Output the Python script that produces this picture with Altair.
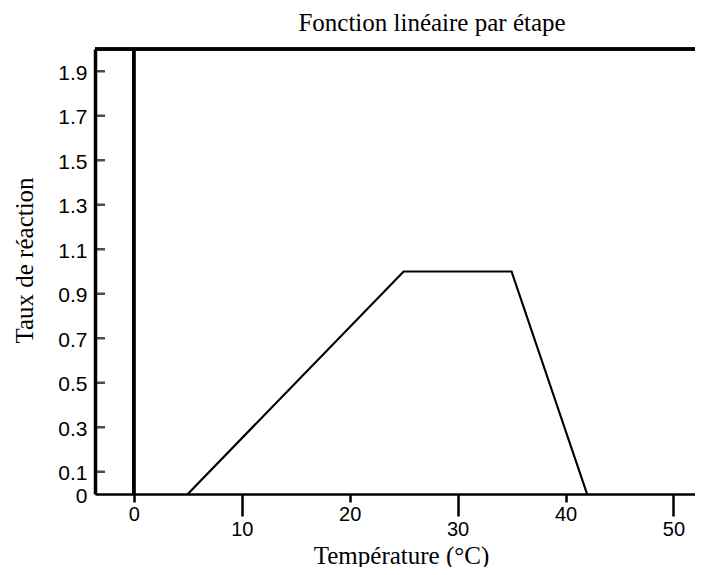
import altair as alt
import pandas as pd

# ---- data ----
temps = [5, 25, 35, 42]
rates = [0.0, 1.0, 1.0, 0.0]
x_ticks = [0, 10, 20, 30, 40, 50]
y_ticks = [0, 0.1, 0.3, 0.5, 0.7, 0.9, 1.1, 1.3, 1.5, 1.7, 1.9]
x_domain = [-3.6, 52.0]
y_domain = [0, 2.0]

line_df = pd.DataFrame({"t": temps, "r": rates})
tick_df = pd.DataFrame({"v": [v for v in y_ticks if v > 0]})

xscale = alt.Scale(domain=x_domain, nice=False, zero=False)
yscale = alt.Scale(domain=y_domain, nice=False, zero=False)

x_axis = alt.Axis(
    values=x_ticks,
    title="Température (°C)",
    grid=False,
    domainColor="black",
    domainWidth=2.5,
    tickColor="black",
    tickWidth=2.5,
    tickSize={"condition": {"test": "datum.value % 20 == 0", "value": 8}, "value": 22},
    labelPadding={"condition": {"test": "datum.value % 20 == 0", "value": 2}, "value": 3},
    labelBaseline="top",
    labelFont="Liberation Sans",
    labelFontSize=20,
    labelColor="black",
    titleFont="Liberation Serif",
    titleFontSize=25,
    titleFontWeight="normal",
    titleColor="black",
    titleBaseline="alphabetic",
    titleX=306,
    titleY=69,
)

y_axis = alt.Axis(
    values=y_ticks,
    title="Taux de réaction",
    grid=False,
    ticks=False,
    domainColor="black",
    domainWidth=3.5,
    labelExpr="datum.value == 0 ? '0' : format(datum.value, '.1f')",
    labelPadding=8,
    labelOffset=2,
    labelFont="Liberation Sans",
    labelFontSize=21,
    labelColor="black",
    titleFont="Liberation Serif",
    titleFontSize=25,
    titleFontWeight="normal",
    titleColor="black",
    titleAngle=270,
    titleBaseline="middle",
    titleAlign="center",
    titleX=-71,
    titleY=211,
)

line = alt.Chart(line_df).mark_line(color="black", strokeWidth=2.2).encode(
    x=alt.X("t:Q", scale=xscale, axis=x_axis),
    y=alt.Y("r:Q", scale=yscale, axis=y_axis),
)

zero_rule = alt.Chart(line_df).mark_rule(color="black", strokeWidth=3).encode(
    x=alt.datum(0, type="quantitative"),
)

top_rule = alt.Chart(line_df).mark_rule(color="black", strokeWidth=3).encode(
    y=alt.datum(y_domain[1], type="quantitative"),
)

yticks = alt.Chart(tick_df).mark_tick(
    orient="horizontal", size=10, thickness=2.5, color="black", xOffset=5
).encode(
    x=alt.datum(x_domain[0], type="quantitative"),
    y=alt.Y("v:Q"),
)

chart = (
    alt.layer(line, zero_rule, top_rule, yticks)
    .properties(
        width=600,
        height=445,
        autosize=alt.AutoSizeParams(type="none"),
        padding={"left": 87, "top": 41, "right": 0, "bottom": 73},
        title=alt.TitleParams(
            "Fonction linéaire par étape",
            font="Liberation Serif",
            fontSize=25,
            fontWeight="normal",
            color="black",
            anchor="middle",
            frame="group",
            offset=12,
            dx=37,
        ),
    )
    .configure_view(stroke=None)
    .configure(background="white")
)

chart.save("out.html", embed_options={"renderer": "svg", "actions": False})
